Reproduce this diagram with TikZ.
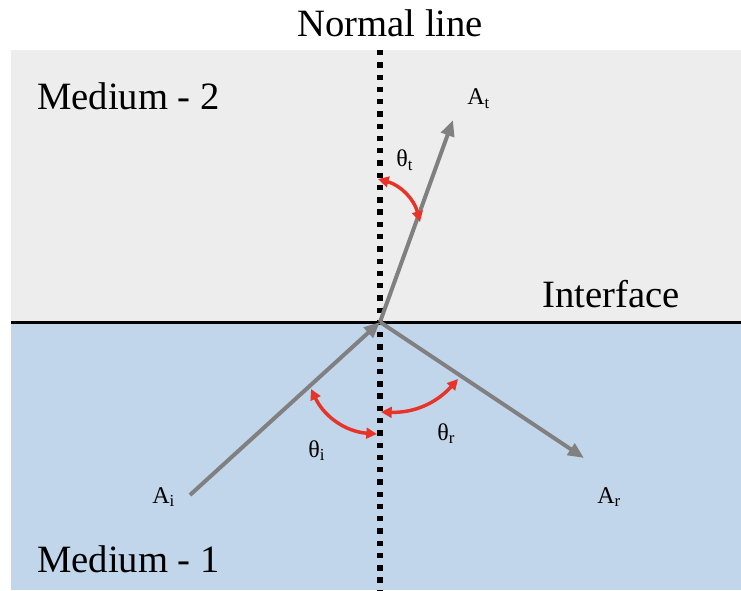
\documentclass[tikz,border=0pt]{standalone}
\usepackage{fontspec}
\setmainfont{Liberation Serif}
\usetikzlibrary{arrows.meta}
\definecolor{mediumtwo}{RGB}{237,237,237}
\definecolor{mediumone}{RGB}{194,214,235}
\definecolor{raygray}{RGB}{128,128,128}
\definecolor{arcred}{RGB}{232,52,40}
\tikzset{
  bigtext/.style={font=\fontsize{29}{32}\selectfont, inner sep=0pt, anchor=base west},
  smalltext/.style={font=\fontsize{18}{21}\selectfont, inner sep=0pt, anchor=base west},
  ray/.style={line width=3pt, raygray, -{Triangle[length=12pt,width=10pt]}},
  anglearc/.style={line width=2.6pt, arcred, {Triangle[length=8pt,width=8pt]}-{Triangle[length=8pt,width=8pt]}},
  normalline/.style={line width=4.3pt, dash pattern=on 4pt off 5.2pt},
  interfaceline/.style={line width=2.25pt}
}

\begin{document}
\begin{tikzpicture}[x=0.75pt, y=0.75pt]
  \useasboundingbox (0,0) rectangle (741,590);
  \fill[mediumtwo] (11,268) rectangle (741,540);
  \fill[mediumone] (11,0) rectangle (741,268);

  \coordinate (O) at (380,268);
  \coordinate (ntop) at (380,540);
  \coordinate (nbot) at (380,0);
  \coordinate (ileft) at (11,268);
  \coordinate (iright) at (741,268);
  \coordinate (ai) at (190,95);
  \coordinate (at) at (453,470);
  \coordinate (ar) at (584,132);

  \draw[normalline] (ntop) -- (nbot);
  \draw[interfaceline] (ileft) -- (iright);

  \draw[ray] (ai) -- (O);
  \draw[ray] (O) -- (at);
  \draw[ray] (O) -- (ar);

  \coordinate (tstart) at (378,411);
  \coordinate (tend) at (420,368);
  \coordinate (istart) at (311,201);
  \coordinate (iend) at (377,156);
  \coordinate (rstart) at (381,178);
  \coordinate (rend) at (458,211);
  \draw[anglearc] (tstart) to[bend left=30] (tend);
  \draw[anglearc] (istart) to[bend right=30] (iend);
  \draw[anglearc] (rstart) to[bend right=25] (rend);

  \node[bigtext] (normal) at (297,553) {Normal line};
  \node[bigtext] (med2) at (37,480) {Medium - 2};
  \node[bigtext] (med1) at (37,18) {Medium - 1};
  \node[bigtext] (interface) at (542,283) {Interface};

  \node[smalltext] (Alabt) at (467,485) {A\textsubscript{t}};
  \node[smalltext] (Alabi) at (152,87) {A\textsubscript{i}};
  \node[smalltext] (Alabr) at (597,87) {A\textsubscript{r}};
  \node[smalltext] (thetat) at (396,423) {θ\textsubscript{t}};
  \node[smalltext] (thetai) at (308,133) {θ\textsubscript{i}};
  \node[smalltext] (thetar) at (437,150) {θ\textsubscript{r}};
\end{tikzpicture}
\end{document}
